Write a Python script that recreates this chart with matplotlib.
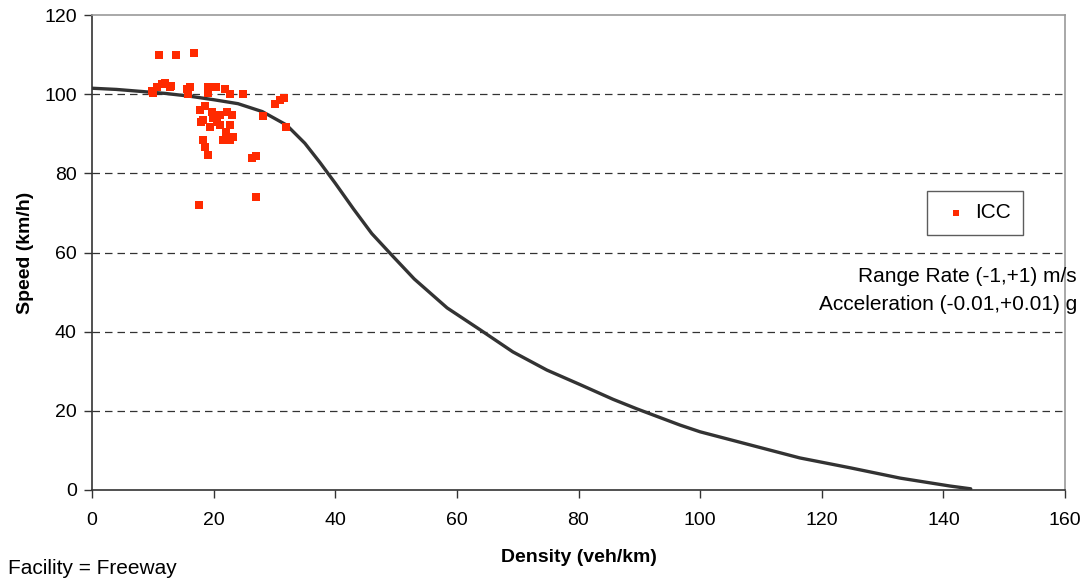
import matplotlib
matplotlib.use("Agg")
import matplotlib.pyplot as plt

plt.rcParams['font.family'] = ['Liberation Sans', 'DejaVu Sans']

# ICC scatter data (density veh/km, speed km/h)
icc_density = [11.0, 13.8, 16.8, 9.9, 10.7, 12.0, 12.8, 10.0, 11.5, 13.0, 15.6, 16.1, 15.8,
               19.1, 20.4, 19.1, 21.9, 22.7, 24.8, 17.8, 18.6, 18.3, 19.9, 21.1, 22.2,
               23.0, 19.4, 21.1, 22.7, 18.3, 18.6, 19.1, 21.5, 23.2, 22.7, 26.3, 27.0,
               28.1, 30.1, 30.9, 31.6, 31.9, 27.0, 17.6, 20.5, 22.0, 19.8, 18.0]
icc_speed = [109.8, 110.0, 110.5, 100.7, 101.9, 102.9, 101.9, 100.4, 102.5, 102.0, 101.2, 101.9, 100.1,
             101.7, 101.9, 100.4, 101.2, 100.1, 100.1, 96.1, 96.9, 93.6, 94.1, 94.8, 95.6,
             94.8, 91.6, 92.3, 92.3, 88.5, 86.7, 84.7, 88.5, 89.3, 88.5, 84.0, 84.5,
             94.6, 97.4, 98.6, 99.1, 91.8, 74.1, 72.1, 93.0, 90.5, 95.5, 93.0]

# Model curve
curve_density = [0, 4, 8, 12, 16, 20, 24, 28, 32, 35, 37.5, 40, 43, 46, 49.5, 53,
                 58.4, 63.8, 69.2, 74.8, 80.3, 85.7, 89.6, 96.7, 100, 108.2, 116.4,
                 124.7, 132.9, 141.1, 144.5]
curve_speed = [101.5, 101.2, 100.7, 100.2, 99.5, 98.6, 97.6, 95.6, 92.2, 87.6, 82.7, 77.5,
               71.0, 64.8, 59.0, 53.3, 46.0, 40.5, 34.9, 30.3, 26.6, 22.9, 20.5, 16.4,
               14.7, 11.4, 8.1, 5.6, 3.0, 1.0, 0.3]

x_ticks = [0, 20, 40, 60, 80, 100, 120, 140, 160]
y_ticks = [0, 20, 40, 60, 80, 100, 120]

W, H = 1089, 582
fig = plt.figure(figsize=(W / 100, H / 100), dpi=100)
ax = fig.add_axes([92 / W, 1 - 490 / H, (1065 - 92) / W, (490 - 15) / H])

for yv in y_ticks[1:-1]:
    ax.axhline(yv, color='#333333', linestyle=(0, (6, 4)), linewidth=0.9, zorder=1)

ax.plot(curve_density, curve_speed, color='#333333', linewidth=2.4, zorder=2,
        solid_joinstyle='round', solid_capstyle='round')
ax.scatter(icc_density, icc_speed, marker='s', s=36, color='#FF2A00', linewidths=0,
           zorder=3, label='ICC')

ax.set_xlim(0, 160)
ax.set_ylim(0, 120)
ax.set_xticks(x_ticks)
ax.set_yticks(y_ticks)
ax.tick_params(axis='both', labelsize=14, length=6, width=1, color='#333333')
ax.tick_params(axis='x', direction='out', pad=10)
ax.tick_params(axis='y', direction='out', pad=5)
for s in ['top', 'right']:
    ax.spines[s].set_color('#999999')
    ax.spines[s].set_linewidth(1.2)
for s in ['left', 'bottom']:
    ax.spines[s].set_color('#333333')
    ax.spines[s].set_linewidth(1.2)

ax.set_xlabel('Density (veh/km)', fontsize=14, fontweight='bold', labelpad=14)
ax.set_ylabel('Speed (km/h)', fontsize=14, fontweight='bold', labelpad=7)

leg = ax.legend(loc='upper left', bbox_to_anchor=(927 / W, 1 - 191 / H),
                bbox_transform=fig.transFigure, fontsize=15,
                frameon=True, fancybox=False, edgecolor='#333333', markerscale=0.7,
                handletextpad=0.1, borderpad=0.6, handlelength=1.6, borderaxespad=0)
leg.get_frame().set_linewidth(1.0)

fig.text(1077 / W, 1 - 276 / H, 'Range Rate (-1,+1) m/s', ha='right', va='center', fontsize=15)
fig.text(1077 / W, 1 - 304 / H, 'Acceleration (-0.01,+0.01) g', ha='right', va='center', fontsize=15)
fig.text(8 / W, 1 - 568 / H, 'Facility = Freeway', ha='left', va='center', fontsize=15)

fig.savefig('out.png', dpi=100)
